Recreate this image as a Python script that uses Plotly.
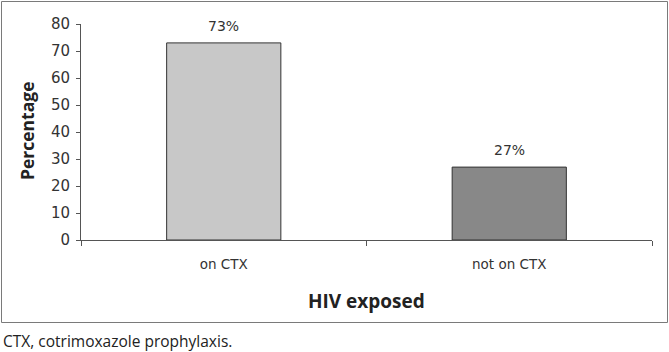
import plotly.graph_objects as go

categories = ["on CTX", "not on CTX"]
percentages = [73, 27]
value_labels = ["73%", "27%"]
bar_colors = ["#c8c8c8", "#888888"]
y_ticks = [0, 10, 20, 30, 40, 50, 60, 70, 80]

W, H = 669, 352
L, R, T, B = 81, 17, 24, 112
pw, ph = W - L - R, H - T - B

def px_x(x):
    return (x - L) / pw

def px_y(y):
    return (H - B - y) / ph

fig = go.Figure()
fig.add_trace(go.Bar(
    x=categories, y=percentages, width=0.4,
    marker=dict(color=bar_colors, line=dict(color="#333333", width=1)),
    showlegend=False, hoverinfo="skip",
))

for c, v, t in zip(categories, percentages, value_labels):
    fig.add_annotation(x=c, y=v, text=t, showarrow=False, yshift=17,
                       font=dict(family="DejaVu Sans", size=14, color="#333333"))

fig.add_annotation(xref="paper", yref="paper", x=px_x(27), y=px_y(131),
                   xanchor="center", yanchor="middle",
                   text="<b>Percentage</b>", textangle=-90, showarrow=False,
                   font=dict(family="Open Sans", size=17.5, color="#222222"))
fig.add_annotation(xref="paper", yref="paper", x=px_x(366), y=px_y(301),
                   xanchor="center", yanchor="middle",
                   text="<b>HIV exposed</b>", showarrow=False,
                   font=dict(family="Open Sans", size=19, color="#222222"))
fig.add_annotation(xref="paper", yref="paper", x=px_x(1), y=px_y(341),
                   xanchor="left", yanchor="middle",
                   text="CTX, cotrimoxazole prophylaxis.", showarrow=False,
                   font=dict(family="Open Sans", size=15.5, color="#222222"))

fig.add_shape(type="rect", xref="paper", yref="paper",
              x0=px_x(1.5), x1=px_x(667.5), y0=px_y(1.5), y1=px_y(322.5),
              line=dict(color="#7a7a7a", width=1), layer="below")

fig.update_layout(
    width=W, height=H, margin=dict(l=L, r=R, t=T, b=B),
    paper_bgcolor="white", plot_bgcolor="white",
    bargap=0.6,
    xaxis=dict(showline=True, linecolor="#555555", linewidth=1,
               ticks="outside", tickson="boundaries", ticklen=5, tickcolor="#555555",
               tickfont=dict(family="DejaVu Sans", size=13.5, color="#333333"),
               ticklabelstandoff=12, showgrid=False, zeroline=False,
               range=[-0.5, 1.5]),
    yaxis=dict(range=[0, 80], tickvals=y_ticks, showline=True, linecolor="#555555",
               linewidth=1, ticks="outside", ticklen=4, tickcolor="#555555",
               tickfont=dict(family="DejaVu Sans", size=15, color="#333333"),
               ticklabelstandoff=3, showgrid=False, zeroline=False),
)

fig.write_html("out.html")
